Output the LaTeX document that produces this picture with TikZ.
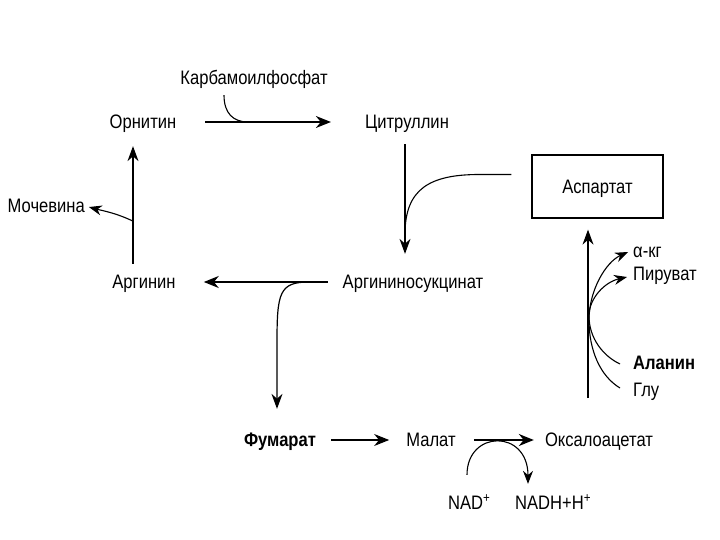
\documentclass[tikz,border=0pt]{standalone}
\usepackage{fontspec}
\setmainfont{Liberation Sans}[FakeStretch=0.85]
\usetikzlibrary{arrows.meta, calc, positioning}

\begin{document}
\begin{tikzpicture}[x=1pt, y=-1pt,
   every node/.style={font=\fontsize{19.5}{22}\selectfont, inner sep=0pt, text height=13.9pt, text depth=0pt},
   heavy/.style={font=\fontsize{19.5}{22}\selectfont\bfseries},
   arr/.style={-{Stealth[length=15pt, width=12pt]}, line width=1.7pt},
   varr/.style={-{Stealth[length=15pt, width=11pt]}, line width=1.2pt},
   curveline/.style={line width=1.1pt},
   carr/.style={curveline, -{Stealth[length=13pt, width=10pt]}}]
   \useasboundingbox (0,0) rectangle (720,540);
   % Compounds
   \node (karb) at (254,78) {Карбамоилфосфат};
   \node (orn) at (143,122) {Орнитин};
   \node (cit) at (407,122) {Цитруллин};
   \node[draw, line width=1.3pt, minimum width=131pt, minimum height=63pt] (asp) at (597.5,186.5) {Аспартат};
   \node (argsuc) at (413,282) {Аргининосукцинат};
   \node (arg) at (144,282) {Аргинин};
   \node[anchor=east] (moch) at (85,206) {Мочевина};
   \node[heavy] (fum) at (280,440) {Фумарат};
   \node (mal) at (431,440) {Малат};
   \node (oxa) at (599,440) {Оксалоацетат};
   \node[anchor=west] (nad) at (448,503) {NAD\textsuperscript{+}};
   \node[anchor=west] (nadh) at (515,503) {NADH+H\textsuperscript{+}};
   \node[anchor=west] (akg) at (633,251) {α-кг};
   \node[anchor=west] (pyr) at (633,274) {Пируват};
   \node[anchor=west, heavy] (ala) at (633,363) {Аланин};
   \node[anchor=west] (glu) at (633,390) {Глу};
   \coordinate (foot) at (588,398);
   % Cycle
   \draw[arr, shorten <=29pt, shorten >=34pt] (orn.east) -- (cit.west);
   \draw[curveline] ($(karb.south)+(-30,10)$) .. controls +(0,18) and +(-15,0) .. ($(orn.east)!0.38!(cit.west)$);
   \draw[varr, shorten <=15pt, shorten >=21pt] ($(cit.south)+(-2,0)$) -- ($(cit.south |- argsuc.north)+(-2,0)$);
   \draw[curveline] ($(asp.west)+(-20,-12)$) -- ++(-32,0) .. controls +(-50,0) and +(0,-45) .. ($(cit.south)+(-2,105)$);
   \draw[arr, shorten <=15pt, shorten >=28pt] (argsuc.west) -- (arg.east);
   \draw[varr] ($(argsuc.west)!0.2!(arg.east)$) .. controls +(-30,0) and +(0,-50) .. ($(fum.north)+(-3,-90)$) -- ($(fum.north)+(-3,-24)$);
   \draw[varr, shorten <=11pt, shorten >=17pt] ($(arg.north)+(-11,0)$) -- ($(orn.south)+(-10,0)$);
   \draw[carr, shorten >=4pt] ($(arg.north)!0.37!(orn.south)+(-11,0)$) to[out=155, in=-15] (moch.east);
   % Fumarate to oxaloacetate
   \draw[arr, line width=1.4pt, shorten <=15pt, shorten >=17pt] (fum.east) -- (mal.west);
   \draw[arr, line width=1.4pt, shorten <=18pt, shorten >=11pt] (mal.east) -- (oxa.west);
   \draw[carr] ($(nad.north west)+(19,-21)$) .. controls +(0,-45) and +(0,-55) .. ($(nadh.north west)+(13,-12)$);
   % Aspartate supply
   \draw[varr, shorten >=11pt] (foot) -- (foot |- asp.south);
   \draw[carr] ($(glu.west)+(-13,-2)$) .. controls +(-20,-12) and +(0,30) .. ($(foot)+(1,-78)$) .. controls +(0,-30) and +(-22,10) .. ($(akg.west)+(-5,1)$);
   \draw[carr] ($(ala.west)+(-13,1)$) .. controls +(-17,-8) and +(0,22) .. ($(foot)+(1,-82)$) .. controls +(0,-18) and +(-22,5) .. ($(pyr.west)+(-6,3)$);
\end{tikzpicture}
\end{document}
